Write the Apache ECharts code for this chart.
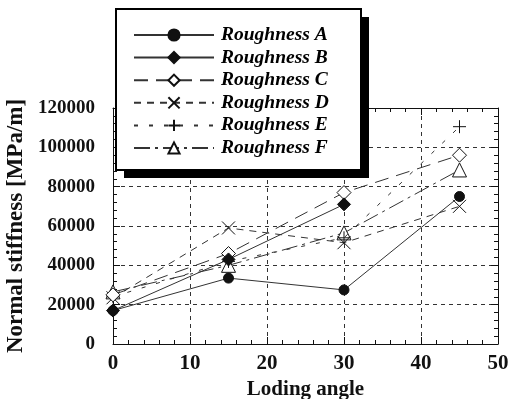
<!DOCTYPE html>
<html>
<head>
<meta charset="utf-8">
<script src="https://cdn.jsdelivr.net/npm/echarts@6/dist/echarts.min.js"></script>
<style>
  html, body { margin: 0; padding: 0; background: #fff; }
  #chart { width: 521px; height: 399px; }
</style>
</head>
<body>
<div id="chart"></div>
<script>
const angles = [0, 15, 30, 45];
const roughA = [17000, 33500, 27500, 75000];
const roughB = [17000, 43000, 71000, null];
const roughC = [25000, 46000, 77000, 96000];
const roughD = [23500, 59000, 51500, 70000];
const roughE = [24000, 42000, 54000, 110500];
const roughF = [26500, 40000, 56500, 88500];
const seriesNames = ['Roughness A', 'Roughness B', 'Roughness C', 'Roughness D', 'Roughness E', 'Roughness F'];

document.addEventListener('DOMContentLoaded', function() {
    const chart = echarts.init(document.getElementById('chart'));
    const serif = 'Liberation Serif';
    const ink = '#111';

    function pairs(vals) {
        return angles.map((a, i) => [a, vals[i]]);
    }

    const crossPath = 'path://M0,0L10,10M10,0L0,10';
    const plusPath = 'path://M5,0L5,10M0,5L10,5';

    const styles = [
        { data: roughA, symbol: 'circle', size: 10, fill: ink, dash: 'solid' },
        { data: roughB, symbol: 'diamond', size: 13, fill: ink, dash: 'solid' },
        { data: roughC, symbol: 'diamond', size: 14, fill: '#fff', dash: [14, 8] },
        { data: roughD, symbol: crossPath, size: 13, fill: 'none', dash: [7, 6] },
        { data: roughE, symbol: plusPath, size: 13, fill: 'none', dash: [4, 11] },
        { data: roughF, symbol: 'triangle', size: 14, fill: '#fff', dash: [16, 5, 3, 5] }
    ];

    const series = styles.map((s, i) => ({
        name: seriesNames[i],
        type: 'line',
        data: pairs(s.data),
        symbol: s.symbol,
        symbolSize: s.size,
        connectNulls: false,
        z: 10 - i,
        lineStyle: { color: '#333', width: 1, type: s.dash },
        itemStyle: { color: s.fill, borderColor: ink, borderWidth: 1 }
    }));

    const plain = v => String(v);

    const option = {
        animation: false,
        backgroundColor: '#fff',
        grid: { left: 113, right: 23, top: 108, bottom: 55, outerBoundsMode: 'none', containLabel: false },
        graphic: [
            { type: 'rect', shape: { x: 124, y: 17, width: 245, height: 161 }, style: { fill: '#000' }, z: 100 },
            { type: 'rect', shape: { x: 116, y: 9, width: 245, height: 161 }, style: { fill: '#fff', stroke: '#000', lineWidth: 2 }, z: 101 }
        ],
        legend: {
            orient: 'vertical',
            left: 128,
            top: 20,
            z: 200,
            itemWidth: 80,
            itemHeight: 14,
            itemGap: 2.6,
            data: seriesNames,
            textStyle: {
                fontFamily: serif,
                fontWeight: 'bold',
                fontStyle: 'italic',
                fontSize: 19.5,
                color: '#000',
                padding: [0, 0, 0, 2]
            }
        },
        xAxis: [{
            type: 'value',
            min: 0,
            max: 50,
            interval: 10,
            name: 'Loding angle',
            nameLocation: 'middle',
            nameGap: 35,
            nameTextStyle: { fontFamily: serif, fontWeight: 'bold', fontSize: 21, color: ink },
            axisLine: { show: true, lineStyle: { color: ink, width: 1 } },
            axisTick: { show: true, inside: true, length: 7, lineStyle: { color: ink } },
            minorTick: { show: true, splitNumber: 5, length: 4, lineStyle: { color: ink } },
            axisLabel: { margin: 9, fontFamily: serif, fontWeight: 'bold', fontSize: 21, color: ink },
            splitLine: { show: true, lineStyle: { color: '#333', type: [4, 4], width: 1 } }
        }, {
            type: 'value',
            position: 'top',
            min: 0,
            max: 50,
            interval: 10,
            axisLine: { show: true, onZero: false, lineStyle: { color: ink, width: 1 } },
            axisTick: { show: true, inside: true, length: 7, lineStyle: { color: ink } },
            minorTick: { show: true, splitNumber: 5, length: 4, lineStyle: { color: ink } },
            axisLabel: { show: false },
            splitLine: { show: false }
        }],
        yAxis: [{
            type: 'value',
            min: 0,
            max: 120000,
            interval: 20000,
            name: 'Normal stiffness [MPa/m]',
            nameLocation: 'middle',
            nameGap: 80,
            nameTextStyle: { fontFamily: serif, fontWeight: 'bold', fontSize: 23, color: ink },
            axisLine: { show: true, lineStyle: { color: ink, width: 1 } },
            axisTick: { show: true, inside: true, length: 7, lineStyle: { color: ink } },
            minorTick: { show: true, splitNumber: 5, length: 4, lineStyle: { color: ink } },
            axisLabel: { margin: 18, formatter: plain, fontFamily: serif, fontWeight: 'bold', fontSize: 19, color: ink },
            splitLine: { show: true, lineStyle: { color: '#333', type: [4, 4], width: 1 } }
        }, {
            type: 'value',
            position: 'right',
            min: 0,
            max: 120000,
            interval: 20000,
            axisLine: { show: true, onZero: false, lineStyle: { color: ink, width: 1 } },
            axisTick: { show: true, inside: true, length: 7, lineStyle: { color: ink } },
            minorTick: { show: true, splitNumber: 5, length: 4, lineStyle: { color: ink } },
            axisLabel: { show: false },
            splitLine: { show: false }
        }],
        series: series
    };

    chart.setOption(option);
});
</script>
</body>
</html>
